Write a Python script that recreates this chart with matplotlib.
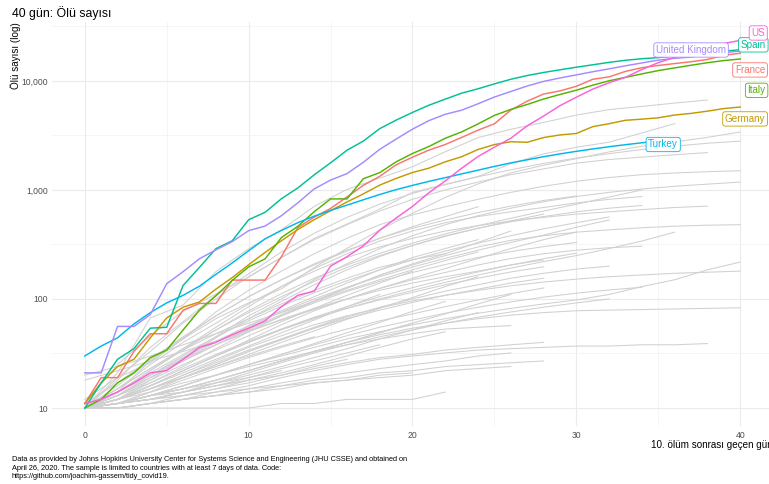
import matplotlib
matplotlib.use('Agg')
import matplotlib.pyplot as plt
from matplotlib.ticker import FixedLocator, FuncFormatter, NullFormatter

plt.rcParams['font.family'] = ['Liberation Sans', 'DejaVu Sans']

# deaths by day since the 10th death (day 0, 1, 2, ...)
france = [11, 19, 19, 33, 48, 48, 79, 91, 91, 149, 149, 149, 244, 451, 563, 676, 862,
	1102, 1333, 1698, 1997, 2317, 2611, 3030, 3532, 4043, 5398, 6520, 7574, 8093, 8926,
	10343, 10887, 12228, 13215, 13851, 14412, 14986, 15712, 17167, 17941]
germany = [11, 17, 24, 28, 44, 67, 84, 94, 123, 157, 206, 267, 342, 433, 533, 645, 775,
	920, 1107, 1275, 1444, 1584, 1810, 2016, 2349, 2607, 2767, 2736, 3022, 3194, 3294,
	3804, 4052, 4352, 4459, 4586, 4862, 5033, 5279, 5575, 5760]
italy = [10, 12, 17, 21, 29, 34, 52, 79, 107, 148, 197, 233, 366, 463, 631, 827, 827,
	1266, 1441, 1809, 2158, 2503, 2978, 3405, 4032, 4825, 5476, 6077, 6820, 7503, 8215,
	9134, 10023, 10779, 11591, 12428, 13155, 13915, 14681, 15362, 15887]
spain = [10, 17, 28, 35, 54, 55, 133, 195, 289, 342, 533, 623, 830, 1043, 1375, 1772,
	2311, 2808, 3647, 4365, 5138, 5982, 6803, 7716, 8464, 9387, 10348, 11198, 11947,
	12641, 13341, 14045, 14792, 15447, 15970, 16353, 16972, 17489, 18056, 18708, 19315]
turkey = [30, 37, 44, 59, 75, 92, 108, 131, 168, 214, 277, 356, 425, 501, 574, 649, 725,
	812, 908, 1006, 1101, 1198, 1296, 1403, 1518, 1643, 1769, 1890, 2017, 2140, 2259,
	2376, 2491, 2600, 2706, 2805]
uk = [21, 21, 56, 56, 72, 138, 178, 234, 282, 336, 423, 466, 580, 761, 1021, 1231, 1411,
	1793, 2357, 2926, 3611, 4320, 4943, 5385, 6171, 7111, 7993, 8974, 9892, 10629, 11347,
	12129, 12894, 13759, 14607, 15498, 16095, 16550, 17378, 18151, 18791]
us = [11, 12, 14, 17, 21, 22, 28, 36, 40, 47, 54, 63, 85, 108, 118, 200, 244, 307, 427,
	552, 706, 942, 1209, 1581, 2026, 2467, 2978, 3873, 4757, 5926, 7087, 8407, 9619,
	10783, 12722, 14695, 16478, 18586, 20463, 22020, 23529]

countries = ['France', 'Germany', 'Italy', 'Spain', 'Turkey', 'United Kingdom', 'US']
series = [france, germany, italy, spain, turkey, uk, us]
colors = ['#F8766D', '#C49A00', '#53B400', '#00C094', '#00B6EB', '#A58AFF', '#FB61D7']

# the other countries, read every second day (day 0, 2, 4, ...)
grey_step = 2
others = [
	[10, 21, 67, 88, 178, 289, 431, 705, 1011, 1283, 1632, 2240, 3019, 3600, 4157, 4857, 5453, 5828, 6262, 6679],
	[12, 19, 26, 43, 66, 92, 124, 194, 291, 429, 611, 853, 1135, 1433, 1685, 1934, 2234, 2517, 2757, 3036, 3400],
	[10, 18, 36, 62, 108, 170, 270, 400, 560, 740, 930, 1120, 1320, 1530, 1750, 1960, 2150, 2350, 2520, 2680, 2800],
	[11, 25, 46, 77, 111, 159, 240, 359, 486, 667, 950, 1124, 1328, 1736, 2141, 2462, 2741, 3331, 4057],
	[10, 19, 33, 60, 100, 160, 240, 350, 480, 640, 820, 1000, 1180, 1380, 1560, 1760, 1900, 2000, 2100, 2200],
	[11, 14, 27, 43, 76, 120, 180, 260, 360, 480, 590, 700, 820, 950, 1080, 1200, 1300, 1380, 1430, 1470, 1500],
	[10, 13, 20, 30, 45, 70, 100, 150, 210, 290, 380, 480, 580, 680, 780, 870, 950, 1020, 1080, 1130, 1180],
	[10, 14, 22, 35, 55, 85, 130, 190, 260, 340, 420, 500, 570, 630, 690, 760, 820, 870],
	[10, 12, 18, 28, 44, 66, 95, 135, 185, 245, 310, 380, 445, 510, 570, 630, 680, 720],
	[10, 15, 25, 40, 60, 90, 130, 180, 240, 300, 360, 420, 470, 520, 560, 600, 630, 660, 690, 710],
	[10, 13, 17, 24, 35, 50, 70, 95, 125, 165, 205, 250, 300, 345, 380, 410, 430, 450, 465, 475, 480],
	[10, 12, 16, 22, 30, 42, 58, 78, 100, 125, 150, 175, 205, 235, 260, 280, 295, 305],
	[10, 11, 14, 19, 25, 33, 42, 54, 68, 84, 100, 118, 135, 155, 172, 188, 200],
	[10, 11, 13, 16, 20, 25, 30, 36, 43, 50, 58, 66, 74, 82, 90, 98, 110, 130, 150, 185, 218],
	[10, 12, 15, 20, 27, 36, 46, 58, 70, 83, 96, 108, 120, 132, 143, 152, 160, 166, 172, 176, 180],
	[10, 11, 13, 16, 20, 25, 31, 38, 46, 55, 64, 74, 84, 94, 104, 113, 121, 128],
	[10, 11, 12, 14, 17, 21, 26, 32, 38, 45, 52, 60, 68, 76, 84, 92, 100],
	[10, 11, 13, 15, 18, 22, 27, 33, 40, 47, 54, 60, 66, 71, 75, 78, 79, 80, 81, 82, 83],
	[10, 10, 11, 12, 14, 16, 19, 22, 25, 28, 30, 32, 34, 35, 36, 37, 37, 38, 38, 39],
	[10, 10, 10, 10, 10, 10, 11, 11, 12, 12, 12, 14],
	[10, 14, 20, 28, 38, 50, 65, 82, 100, 120, 140, 160, 180, 205, 228],
	[10, 12, 17, 23, 31, 41, 53, 67, 82, 98, 115, 135, 155, 177, 197],
	[10, 12, 15, 20, 26, 34, 43, 54, 66, 79, 93, 108, 123, 140, 155],
	[10, 11, 14, 18, 23, 29, 36, 44, 53, 63, 73, 85, 98, 112, 126],
	[10, 11, 12, 14, 16, 18, 20, 23, 26, 29, 31, 34, 36, 38, 40],
	[10, 10, 11, 12, 13, 14, 16, 18, 19, 21, 22, 24, 25, 26, 27],
	[10, 11, 12, 13, 14, 15, 16, 17, 18, 19, 20, 22, 23, 24],
	[10, 12, 14, 17, 20, 24, 28, 33, 38, 43, 48, 53, 55, 57],
	[10, 13, 19, 27, 38, 52, 70, 92, 117, 145, 175, 207, 240, 272, 302, 330],
	[10, 12, 16, 22, 30, 40, 53, 68, 85, 105, 127, 151, 177, 205, 234, 263],
	[10, 14, 21, 31, 45, 63, 86, 114, 147, 185, 228, 275, 325, 380, 440, 500, 565],
	[10, 13, 19, 28, 40, 56, 76, 100, 128, 160, 196, 236, 280, 330, 385, 455, 530],
	[10, 12, 16, 22, 30, 40, 52, 66, 82, 100, 120, 142, 166, 192, 220, 250, 290, 340, 410],
	[10, 14, 20, 29, 41, 57, 78, 105, 140, 185, 240, 290, 350],
	[10, 15, 23, 34, 48, 66, 90, 120, 155, 195, 230, 260],
	[10, 13, 19, 27, 38, 53, 72, 96, 127, 165, 210, 260, 330, 420],
	[10, 13, 18, 25, 34, 46, 62, 82, 108, 140, 180],
	[10, 12, 16, 21, 28, 37, 49, 64, 85, 110],
	[10, 12, 15, 19, 24, 31, 40, 51, 65, 82, 103, 130, 160],
	[10, 12, 15, 19, 25, 33, 43, 55, 70],
	[10, 11, 13, 16, 20, 25, 31, 39, 49, 61, 77, 95],
	[10, 11, 13, 15, 18, 22, 27, 33, 40, 49, 60, 73, 90, 110],
	[10, 11, 13, 15, 18, 22, 27, 33, 40, 49, 60],
	[10, 12, 15, 19, 24, 30, 37, 45],
	[10, 11, 12, 14, 17, 20, 24, 29, 35, 43, 52, 63, 75],
	[10, 11, 12, 14, 16, 19, 23, 27, 32, 38],
	[10, 10, 11, 13, 15, 18, 21, 25, 30, 36, 43, 50],
	[10, 11, 12, 13, 15, 17, 20, 24, 28],
	[10, 10, 11, 12, 13, 15, 17, 19, 21, 23, 25, 27, 30, 32],
	[10, 11, 13, 15, 17, 19, 22],
	[10, 10, 11, 12, 13, 14, 15, 17, 18, 20, 21],
	[20, 24, 30, 38, 48, 60, 75, 95, 120, 150, 185, 225, 270],
	[18, 22, 27, 33, 41, 51, 64, 80, 100, 125, 155, 190, 235, 290, 350, 410],
	[10, 11, 13, 14, 16, 18],
	[10, 15, 23, 35, 52, 75, 105, 145, 195, 250, 310, 375, 445, 520, 600],
	[11, 17, 28, 45, 70, 105, 150, 210, 280, 360, 445, 530, 620, 710, 800, 880],
	[10, 16, 27, 44, 70, 105, 150, 205, 275, 360, 460, 570, 700],
	[10, 14, 22, 34, 52, 78, 112, 155, 205, 262, 325, 395, 470, 550, 640, 740, 860, 1000],
]

# label boxes at the right end (day, deaths)
label_pos = {
	'US': (41.1, 27500), 'Spain': (40.8, 21400), 'United Kingdom': (37.0, 19200),
	'France': (40.6, 12600), 'Italy': (41.0, 8190), 'Germany': (40.3, 4480),
	'Turkey': (35.3, 2610)}

caption = ('Data as provided by Johns Hopkins University Center for Systems Science and '
	'Engineering (JHU CSSE) and obtained on\nApril 26, 2020. The sample is limited to '
	'countries with at least 7 days of data. Code:\nhttps://github.com/joachim-gassem/tidy_covid19.')

W, H = 769, 484
fig = plt.figure(figsize=(W / 100, H / 100), dpi=100)
left, right, top, bottom = 52, 773, 22, 426.4
ax = fig.add_axes([left / W, 1 - bottom / H, (right - left) / W, (bottom - top) / H])

for vals in others:
	ax.plot([i * grey_step for i in range(len(vals))], vals, color='#d0d0d0', lw=0.75,
		solid_joinstyle='round')
for name, vals, c in zip(countries, series, colors):
	ax.plot(range(len(vals)), vals, color=c, lw=1.05, solid_joinstyle='round')

ax.set_yscale('log')
ax.set_xlim(-2, 42)
ax.set_ylim(10 ** 0.8314, 10 ** 4.540)
ax.xaxis.set_major_locator(FixedLocator([0, 10, 20, 30, 40]))
ax.xaxis.set_minor_locator(FixedLocator([5, 15, 25, 35]))
ax.yaxis.set_major_locator(FixedLocator([10, 100, 1000, 10000]))
ax.yaxis.set_minor_locator(FixedLocator([10 ** 1.5, 10 ** 2.5, 10 ** 3.5, 10 ** 4.5]))
ax.yaxis.set_major_formatter(FuncFormatter(lambda v, p: '{:,}'.format(int(round(v)))))
ax.yaxis.set_minor_formatter(NullFormatter())
ax.grid(which='major', color='#ebebeb', lw=0.8)
ax.grid(which='minor', color='#f2f2f2', lw=0.5)
ax.set_axisbelow(True)
for s in ax.spines.values():
	s.set_visible(False)
ax.tick_params(which='both', length=0, labelsize=6.2, labelcolor='#4d4d4d')
ax.tick_params(axis='x', pad=3.0)
ax.tick_params(axis='y', pad=2.9)

for name, c in zip(countries, colors):
	x, y = label_pos[name]
	ax.text(x, y, name, color=c, ha='center', va='center', fontsize=7.1,
		bbox=dict(boxstyle='round,pad=0.22,rounding_size=0.25', fc='white', ec=c, lw=0.6))

fig.text(12 / W, 1 - 13 / H, '40 gün: Ölü sayısı', fontsize=8.8, va='center', ha='left')
fig.text(16 / W, 1 - top / H, 'Ölü sayısı (log)', fontsize=7.1, rotation=90,
	ha='center', va='top')
fig.text(right / W, 1 - 445 / H, '10. ölüm sonrası geçen gün', fontsize=7.1,
	ha='right', va='center')
fig.text(12 / W, 1 - 456 / H, caption, fontsize=5.3, ha='left', va='top', linespacing=1.35)

fig.savefig('out.png', dpi=100)
